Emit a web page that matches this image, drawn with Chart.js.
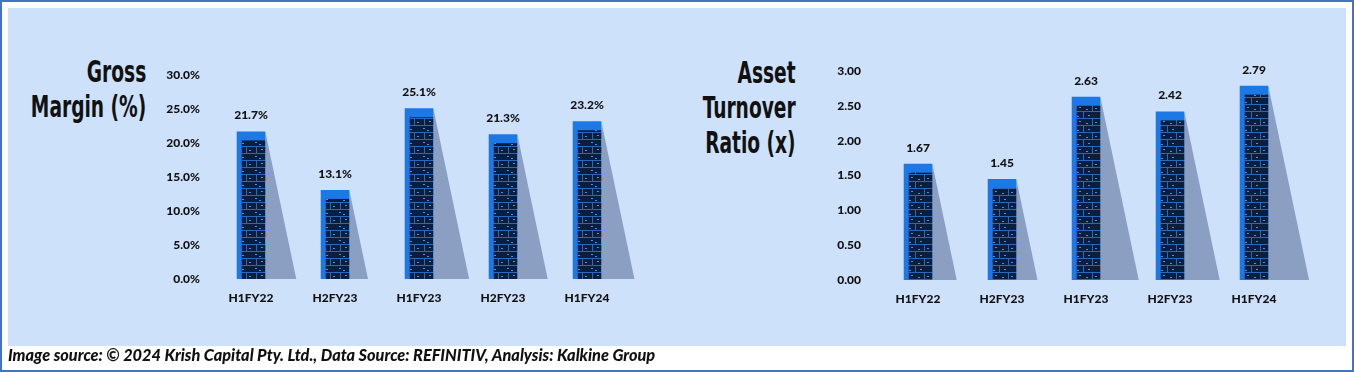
<!DOCTYPE html>
<html>
<head>
<meta charset="utf-8">
<script src="https://cdn.jsdelivr.net/npm/chart.js@4.4.1/dist/chart.umd.min.js"></script>
<style>
  html, body { margin: 0; padding: 0; background: #fff; }
  #frame {
    position: relative; width: 1354px; height: 372px; box-sizing: border-box;
    border: 2px solid #4472c4; background: #fff; overflow: hidden;
  }
  #panel { position: absolute; left: 6px; top: 6px; width: 1338px; height: 338px; background: #cde1fb; }
  canvas { position: absolute; }
  .title {
    position: absolute; font-family: "DejaVu Sans Condensed", "DejaVu Sans", sans-serif;
    font-weight: bold; font-size: 30px; line-height: 35px; color: #111; text-align: right;
    transform: scaleX(0.69); transform-origin: right top; white-space: nowrap;
  }
  #footer {
    position: absolute; left: 6px; top: 343px; font-family: Lato, sans-serif;
    font-style: italic; font-weight: 900; font-size: 16.3px; color: #111; white-space: nowrap;
  }
</style>
</head>
<body>
<div id="frame">
  <div id="panel"></div>
  <div class="title" style="right:1206px; top:52px;">Gross<br>Margin (%)</div>
  <div class="title" style="right:556px; top:53px;">Asset<br>Turnover<br>Ratio (x)</div>
  <canvas id="gm" width="510" height="346" style="left:138px; top:-2px;"></canvas>
  <canvas id="at" width="530" height="346" style="left:788px; top:-2px;"></canvas>
  <div id="footer">Image source: © 2024 Krish Capital Pty. Ltd., Data Source: REFINITIV, Analysis: Kalkine Group</div>
</div>
<script>
// data
const periods = ['H1FY22', 'H2FY23', 'H1FY23', 'H2FY23', 'H1FY24'];
const grossMargin = [21.7, 13.1, 25.1, 21.3, 23.2];
const assetTurnover = [1.67, 1.45, 2.63, 2.42, 2.79];

const tickFont = { family: 'Lato', weight: '900', size: 12 };

// brick texture for the bars
function makeBrick(ctx) {
    const c = document.createElement('canvas');
    c.width = 28; c.height = 14;
    const g = c.getContext('2d');
    g.fillStyle = '#0a1f40';
    g.fillRect(0, 0, 28, 14);
    g.fillStyle = '#2a68b8';
    g.fillRect(0, 6, 28, 1);
    g.fillRect(0, 13, 28, 1);
    g.fillRect(13, 0, 1, 6);
    g.fillRect(4, 7, 1, 6);
    g.fillRect(22, 7, 1, 6);
    g.fillStyle = '#4f90de';
    [[3, 2], [18, 3], [9, 9], [25, 10], [16, 11], [7, 4]].forEach(p => g.fillRect(p[0], p[1], 2, 1));
    return ctx.createPattern(c, 'repeat');
}

const decor = {
    id: 'decor',
    beforeDatasetsDraw(chart) {
        const ctx = chart.ctx;
        ctx.save();
        ctx.fillStyle = '#8a9fc1';
        chart.getDatasetMeta(0).data.forEach(el => {
            const r = el.x + el.width / 2;
            const h = el.base - el.y;
            ctx.beginPath();
            ctx.moveTo(r, el.y);
            ctx.lineTo(r + h * 0.21, el.base);
            ctx.lineTo(r, el.base);
            ctx.closePath();
            ctx.fill();
        });
        ctx.restore();
    },
    afterDatasetsDraw(chart, args, opts) {
        const ctx = chart.ctx;
        const pat = makeBrick(ctx);
        const vals = chart.data.datasets[0].data;
        ctx.save();
        chart.getDatasetMeta(0).data.forEach((el, i) => {
            const l = el.x - el.width / 2;
            ctx.fillStyle = pat;
            ctx.fillRect(l + 5, el.y + 9, el.width - 5, el.base - el.y - 9);
            ctx.fillStyle = '#111';
            ctx.font = '900 12px Lato';
            ctx.textAlign = 'center';
            ctx.textBaseline = 'middle';
            ctx.fillText(opts.fmt(vals[i]), el.x, el.y - 16);
        });
        ctx.restore();
    }
};

function makeChart(id, values, max, step, fmt, pad, tickPad) {
    return new Chart(document.getElementById(id), {
        type: 'bar',
        data: {
            labels: periods,
            datasets: [{
                data: values,
                backgroundColor: '#1c78e4',
                barPercentage: 0.34,
                categoryPercentage: 1
            }]
        },
        options: {
            responsive: false,
            animation: false,
            layout: { padding: pad },
            plugins: {
                legend: { display: false },
                tooltip: { enabled: false },
                decor: { fmt: fmt }
            },
            scales: {
                x: {
                    grid: { display: false, drawTicks: false },
                    border: { display: false },
                    ticks: { font: tickFont, color: '#111', padding: 12 },
                    afterFit(s) { s.height = 30; }
                },
                y: {
                    min: 0, max: max,
                    grid: { display: false, drawTicks: false },
                    border: { display: false },
                    ticks: { stepSize: step, font: tickFont, color: '#111', padding: tickPad, callback: v => fmt(v) },
                    afterFit(s) { s.width = 60; }
                }
            }
        },
        plugins: [decor]
    });
}

makeChart('gm', grossMargin, 30, 5, v => v.toFixed(1) + '%', { left: 9, right: 21, top: 75, bottom: 37 }, 9);
makeChart('at', assetTurnover, 3, 0.5, v => v.toFixed(2), { left: 26, right: 24, top: 71, bottom: 36 }, 15);
</script>
</body>
</html>
